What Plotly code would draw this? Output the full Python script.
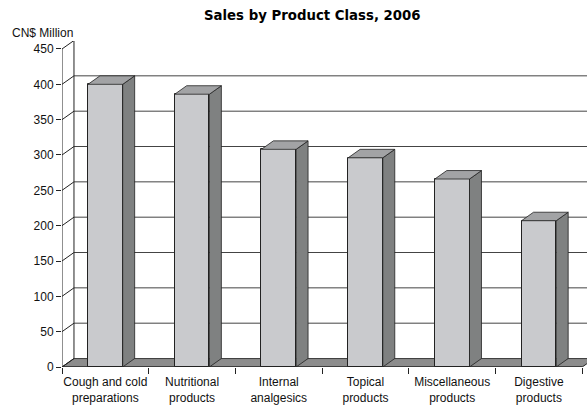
import plotly.graph_objects as go

title = "Sales by Product Class, 2006"
unit_label = "CN$ Million"
categories = ["Cough and cold<br>preparations", "Nutritional<br>products", "Internal<br>analgesics",
              "Topical<br>products", "Miscellaneous<br>products", "Digestive<br>products"]
sales = [400, 386, 308, 296, 266, 207]
y_ticks = [0, 50, 100, 150, 200, 250, 300, 350, 400, 450]

# 3D depth offsets (style)
DX = 0.138   # category units
DY = 12.0    # value units
BW = 0.4     # bar width
XMIN, XMAX = -0.5, 5.555
YMAX = 461.3

FRONT = "#c9cacd"
SIDE = "#7f8181"
TOP = "#a2a3a5"
FLOOR = "#8c8c8c"
EDGE = "#222222"
GRID = "#444444"
FONT_N = "Liberation Sans, Arial, sans-serif"

n = len(categories)
xs = list(range(n))
fig = go.Figure()

# front faces
fig.add_trace(go.Bar(x=xs, y=sales, width=BW, marker=dict(color=FRONT, line=dict(color=EDGE, width=1)),
                     hoverinfo="skip", showlegend=False))

# side and top faces
for i, v in enumerate(sales):
    x0, x1 = i - BW / 2, i + BW / 2
    fig.add_trace(go.Scatter(x=[x1, x1 + DX, x1 + DX, x1, x1], y=[0, DY, v + DY, v, 0],
                             fill="toself", fillcolor=SIDE, mode="lines",
                             line=dict(color=EDGE, width=0.8), hoverinfo="skip", showlegend=False))
    fig.add_trace(go.Scatter(x=[x0, x1, x1 + DX, x0 + DX, x0], y=[v, v, v + DY, v + DY, v],
                             fill="toself", fillcolor=TOP, mode="lines",
                             line=dict(color=EDGE, width=0.8), hoverinfo="skip", showlegend=False))

shapes = []
# floor
shapes.append(dict(type="path", xref="x", yref="y", layer="below",
                   path=f"M {XMIN},0 L {n-0.5},0 L {n-0.5+DX},{DY} L {XMIN+DX},{DY} Z",
                   fillcolor=FLOOR, line=dict(color=EDGE, width=1)))
# back wall gridlines and left wall diagonals
for v in y_ticks:
    shapes.append(dict(type="line", xref="x", yref="y", layer="below",
                       x0=XMIN + DX, x1=XMAX + 0.2, y0=v + DY, y1=v + DY,
                       line=dict(color=GRID if v < 450 else EDGE, width=1)))
    shapes.append(dict(type="line", xref="x", yref="y", layer="below",
                       x0=XMIN, x1=XMIN + DX, y0=v, y1=v + DY,
                       line=dict(color=EDGE, width=1)))
# back wall left edge
shapes.append(dict(type="line", xref="x", yref="y", layer="below",
                   x0=XMIN + DX, x1=XMIN + DX, y0=DY, y1=450 + DY, line=dict(color=EDGE, width=1)))
# front vertical axis
shapes.append(dict(type="line", xref="x", yref="y", layer="above",
                   x0=XMIN, x1=XMIN, y0=0, y1=450, line=dict(color=EDGE, width=1)))
# front floor edge
shapes.append(dict(type="line", xref="x", yref="y", layer="above",
                   x0=XMIN, x1=n - 0.5, y0=0, y1=0, line=dict(color=EDGE, width=1)))

# invisible trace for tick axis
fig.add_trace(go.Scatter(x=[0], y=[0], xaxis="x2", mode="markers", marker=dict(opacity=0),
                         hoverinfo="skip", showlegend=False))

fig.update_layout(
    width=587, height=406,
    margin=dict(l=62, r=0, t=41, b=39, autoexpand=False),
    paper_bgcolor="white", plot_bgcolor="white",
    shapes=shapes,
    title=dict(text=f"<b>{title}</b>", x=0.532, xanchor="center", y=0.963, yanchor="middle",
               font=dict(family="DejaVu Sans, Arial Black, sans-serif", size=13.3, color="black")),
    annotations=[dict(text=unit_label, xref="paper", yref="paper", x=-52/525, y=1.0 + 8/326,
                      xanchor="left", yanchor="middle", showarrow=False,
                      font=dict(family=FONT_N, size=12, color="#111"))],
    xaxis=dict(range=[XMIN, XMAX], tickvals=xs, ticktext=categories, ticks="", showgrid=False,
               zeroline=False, showline=False, tickfont=dict(family=FONT_N, size=12, color="#111"),
               ticklabelstandoff=6, automargin=False),
    xaxis2=dict(range=[XMIN, XMAX], overlaying="x", anchor="y", side="bottom",
                tickvals=[i - 0.5 for i in range(n + 1)], showticklabels=False, ticks="outside",
                ticklen=6, tickcolor=EDGE, showgrid=False, zeroline=False, showline=False,
                automargin=False),
    yaxis=dict(range=[0, YMAX], tickvals=y_ticks, ticks="outside", ticklen=5, tickcolor=EDGE,
               showgrid=False, zeroline=False, showline=False, automargin=False,
               tickfont=dict(family=FONT_N, size=12, color="#111")),
    bargap=0,
)

fig.write_html("out.html", config={"displayModeBar": False},
               post_script="document.body.style.margin='0px';document.body.style.overflow='hidden';")
